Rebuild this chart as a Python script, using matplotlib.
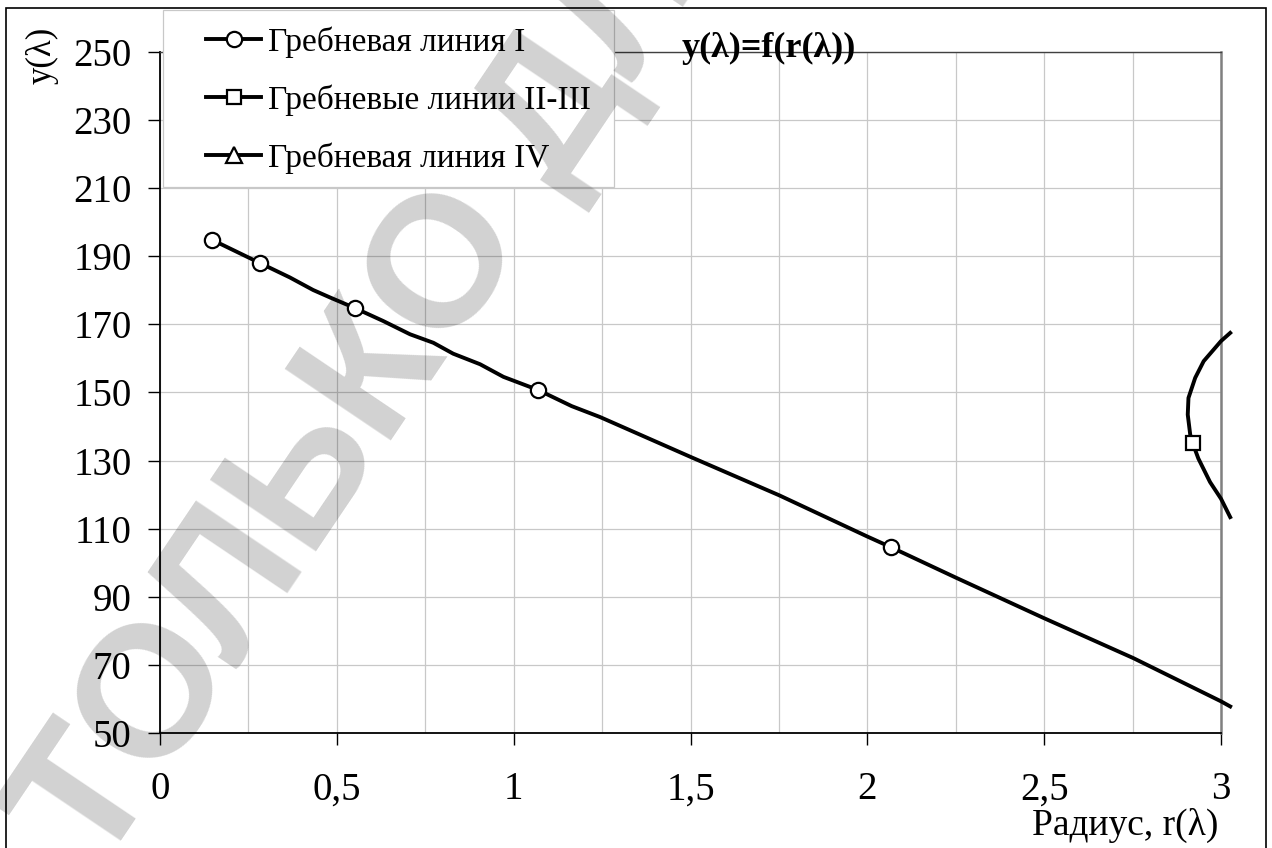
import matplotlib
matplotlib.use("Agg")
import matplotlib.pyplot as plt
from matplotlib.patches import Rectangle
from matplotlib.ticker import MultipleLocator, FuncFormatter

# Гребневая линия I (markers at some of them)
r_line1 = [0.146, 0.283, 0.367, 0.433, 0.481, 0.551, 0.631, 0.707, 0.773, 0.829,
           0.905, 0.971, 1.070, 1.164, 1.244, 1.502, 1.751, 2.000, 2.066, 2.253,
           2.498, 2.752, 3.000, 3.026]
y_line1 = [194.9, 188.0, 183.8, 180.1, 177.9, 174.8, 171.0, 167.1, 164.6, 161.4,
           158.3, 154.6, 150.7, 146.0, 142.8, 131.0, 119.8, 107.7, 104.6, 95.5,
           83.8, 72.0, 59.3, 57.8]
marks_line1 = [0, 1, 5, 12, 18]

# Гребневые линии II-III
r_line23 = [3.026, 3.000, 2.951, 2.927, 2.908, 2.906, 2.913, 2.920, 2.936, 2.969, 3.000, 3.026]
y_line23 = [167.5, 165.1, 159.2, 154.3, 148.4, 143.5, 137.6, 135.1, 130.6, 123.7, 118.8, 113.4]
marks_line23 = [7]

# Гребневая линия IV (outside the visible range)
r_line4 = []
y_line4 = []

labels = ["Гребневая линия I", "Гребневые линии II-III", "Гребневая линия IV"]
y_ticks = [50, 70, 90, 110, 130, 150, 170, 190, 210, 230, 250]

W, H = 1272, 848
serif = "Liberation Serif"

fig = plt.figure(figsize=(W / 100, H / 100), dpi=100)
ax = fig.add_axes([160 / W, 1 - 733 / H, (1221 - 160) / W, (733 - 52) / H])

ax.set_xlim(0, 3)
ax.set_ylim(50, 250)

ax.xaxis.set_major_locator(MultipleLocator(0.5))
ax.xaxis.set_minor_locator(MultipleLocator(0.25))
ax.set_yticks(y_ticks)
ax.xaxis.set_major_formatter(FuncFormatter(lambda v, p: f"{v:g}".replace(".", ",")))

ax.grid(True, which="both", axis="x", color="#c8c8c8", lw=0.9)
ax.grid(True, which="major", axis="y", color="#c8c8c8", lw=0.9)
ax.set_axisbelow(True)

ax.tick_params(axis="both", which="major", direction="out", length=8.5, width=1.0,
               labelsize=28, color="black")
ax.tick_params(axis="x", which="minor", length=0)
ax.tick_params(axis="x", pad=19)
ax.tick_params(axis="y", pad=12)
for lab in ax.get_xticklabels() + ax.get_yticklabels():
    lab.set_fontfamily(serif)

for side in ["left", "bottom"]:
    ax.spines[side].set_color("black")
    ax.spines[side].set_linewidth(1.3)
ax.spines["top"].set_color("#404040")
ax.spines["top"].set_linewidth(1.0)
ax.spines["right"].set_color("#808080")
ax.spines["right"].set_linewidth(1.8)

style = dict(color="black", lw=2.8, mfc="white", mec="black", mew=1.6, clip_on=False, zorder=3)
ax.plot(r_line1, y_line1, marker="o", ms=11, markevery=marks_line1, label=labels[0], **style)
ax.plot(r_line23, y_line23, marker="s", ms=10, markevery=marks_line23, label=labels[1], **style)
ax.plot(r_line4, y_line4, marker="^", ms=11, label=labels[2], **style)

# legend frame (sticks out above the plot area)
ax.add_patch(Rectangle((163 / W, 1 - 187 / H), (614 - 163) / W, (187 - 10) / H,
                       transform=fig.transFigure, facecolor="white", edgecolor="#c8c8c8",
                       lw=0.9, clip_on=False, zorder=4.9))
leg = ax.legend(loc="upper left", bbox_to_anchor=(206 / W, 1 - 26 / H),
                bbox_transform=fig.transFigure, frameon=False, borderpad=0,
                borderaxespad=0, handlelength=1.65, handletextpad=0.2,
                labelspacing=0.8, prop={"family": serif, "size": 24})
leg.set_zorder(5)

fig.text(769 / W, 1 - 48 / H, "y(λ)=f(r(λ))", family=serif, weight="bold",
         fontsize=26, ha="center", va="center", zorder=6)
fig.text(42 / W, 1 - 55 / H, "y(λ)", family=serif, fontsize=25, rotation=90,
         ha="center", va="center")
fig.text(1218 / W, 1 - 825 / H, "Радиус, r(λ)", family=serif, fontsize=27,
         ha="right", va="center")

# outer frame of the picture
fig.add_artist(Rectangle((6 / W, -0.01), (1266 - 6) / W, 1.01 - 8 / H,
                         transform=fig.transFigure, fill=False, edgecolor="black", lw=1.2))

# watermark
fig.text(97 / W, 1 - 876 / H, "ТОЛЬКО ДЛЯ", family="Liberation Sans", weight="bold",
         fontsize=134, rotation=56, rotation_mode="anchor", ha="left", va="baseline",
         color="black", alpha=0.18, zorder=10)

fig.savefig("out.png", dpi=100)
